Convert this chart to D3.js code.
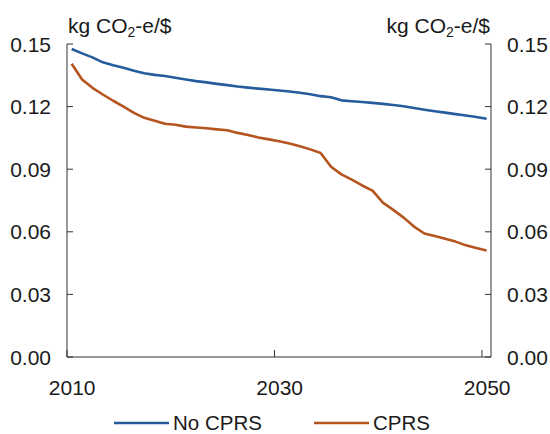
<!DOCTYPE html>
<html><head><meta charset="utf-8">
<script src="https://cdn.jsdelivr.net/npm/d3@7"></script>
<style>body{margin:0;background:#fff}svg{display:block}text{font-family:"Liberation Sans",Arial,sans-serif;fill:#1a1a1a}</style>
</head><body>
<svg id="c" width="550" height="434"></svg>
<script>
const years = d3.range(2010, 2051);
const noCPRS = [0.1476,0.1455,0.1436,0.1412,0.1398,0.1386,0.1372,0.1360,0.1352,0.1347,
  0.1338,0.1330,0.1322,0.1316,0.1309,0.1303,0.1296,0.1291,0.1286,0.1282,
  0.1277,0.1272,0.1266,0.1259,0.1250,0.1245,0.1230,0.1226,0.1222,0.1218,
  0.1213,0.1208,0.1202,0.1193,0.1185,0.1178,0.1171,0.1164,0.1157,0.1150,0.1142];
const cprs = [0.1405,0.1330,0.1290,0.1258,0.1228,0.1200,0.1170,0.1146,0.1132,0.1118,
  0.1113,0.1104,0.1100,0.1096,0.1091,0.1087,0.1074,0.1064,0.1052,0.1043,
  0.1034,0.1023,0.1010,0.0995,0.0978,0.0912,0.0875,0.0850,0.0822,0.0797,
  0.0740,0.0705,0.0668,0.0625,0.0592,0.0580,0.0567,0.0553,0.0535,0.0522,0.0510];
const xTicks = [2010, 2030, 2050];
const yTicks = [0, 0.03, 0.06, 0.09, 0.12, 0.15];
const seriesNames = ["No CPRS", "CPRS"];
const colors = ["#245c9c", "#b4541f"];

const svg = d3.select("#c");
const L = 67, R = 491, T = 44, B = 357;
const x = d3.scaleLinear().domain([2010, 2050.87]).range([L, R]);
const y = d3.scaleLinear().domain([0, 0.15]).range([B, T]);
const fs = 21, axisCol = "#333";

const g = svg.append("g");
g.append("line").attr("x1", L).attr("x2", L).attr("y1", T).attr("y2", B).attr("stroke", axisCol);
g.append("line").attr("x1", R).attr("x2", R).attr("y1", T).attr("y2", B).attr("stroke", axisCol);
g.append("line").attr("x1", L).attr("x2", R).attr("y1", B).attr("y2", B).attr("stroke", axisCol);

yTicks.forEach(v => {
  g.append("line").attr("x1", L).attr("x2", L + 6).attr("y1", y(v)).attr("y2", y(v)).attr("stroke", axisCol);
  g.append("line").attr("x1", R - 6).attr("x2", R).attr("y1", y(v)).attr("y2", y(v)).attr("stroke", axisCol);
  g.append("text").attr("x", 51).attr("y", y(v)).attr("dy", "0.36em").attr("text-anchor", "end")
    .attr("font-size", fs).text(d3.format(".2f")(v));
  g.append("text").attr("x", 507).attr("y", y(v)).attr("dy", "0.36em").attr("text-anchor", "start")
    .attr("font-size", fs).text(d3.format(".2f")(v));
});
xTicks.forEach(t => {
  g.append("line").attr("x1", x(t)).attr("x2", x(t)).attr("y1", B).attr("y2", B - 7).attr("stroke", axisCol);
  g.append("text").attr("x", x(t + 0.5)).attr("y", 395).attr("text-anchor", "middle")
    .attr("font-size", fs).text(t);
});

function unit(xpos, anchor) {
  const t = g.append("text").attr("x", xpos).attr("y", 33).attr("text-anchor", anchor).attr("font-size", fs);
  t.append("tspan").text("kg CO");
  t.append("tspan").attr("font-size", 14).attr("dy", 4).text("2");
  t.append("tspan").attr("dy", -4).text("-e/$");
}
unit(68, "start");
unit(490, "end");

const line = d3.line().x((d, i) => x(years[i] + 0.45)).y(d => y(d));
[noCPRS, cprs].forEach((s, k) => {
  svg.append("path").attr("d", line(s)).attr("fill", "none").attr("stroke", colors[k])
    .attr("stroke-width", 2.6).attr("stroke-linejoin", "round");
});

const legX = [114, 314];
seriesNames.forEach((n, k) => {
  svg.append("line").attr("x1", legX[k]).attr("x2", legX[k] + 55).attr("y1", 423).attr("y2", 423)
    .attr("stroke", colors[k]).attr("stroke-width", 2.6);
  svg.append("text").attr("x", legX[k] + 59).attr("y", 430).attr("font-size", 20.5).text(n);
});
</script>
</body></html>
